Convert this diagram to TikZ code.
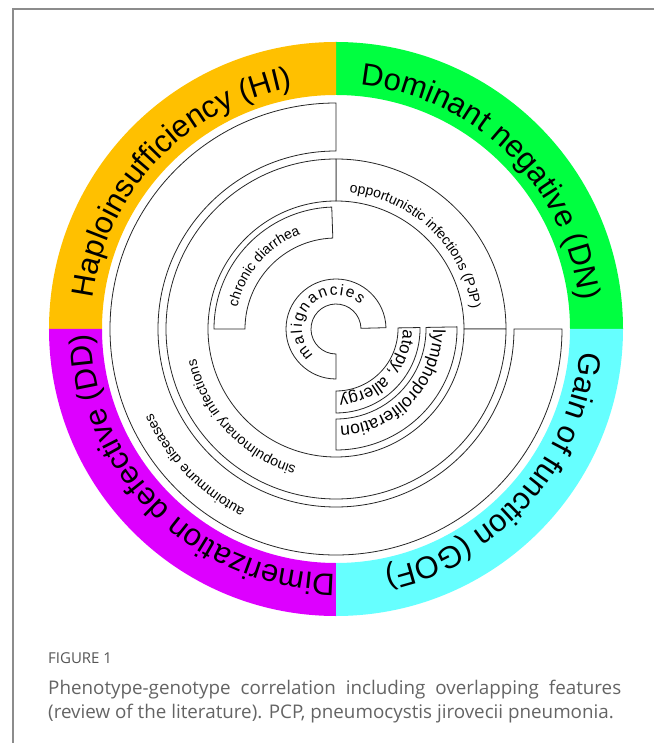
\documentclass[tikz,border=0pt]{standalone}
\usepackage{fontspec}
\setmainfont{Liberation Sans}
\newfontfamily\figcapfont{Open Sans}
\usepackage{tikz}
\usetikzlibrary{decorations.text}
\definecolor{hiorange}{RGB}{255,192,0}
\definecolor{dngreen}{RGB}{0,255,64}
\definecolor{gofcyan}{RGB}{102,255,255}
\definecolor{ddviolet}{RGB}{221,0,255}
\definecolor{captiongray}{RGB}{100,100,100}
\definecolor{framegray}{RGB}{140,140,140}

% annular sector: style, from angle, to angle, inner radius, outer radius
\newcommand{\ringsector}[5]{%
  \path[#1] (#2:#4pt) arc[start angle=#2, end angle=#3, radius=#4pt]
    -- (#3:#5pt) arc[start angle=#3, end angle=#2, radius=#5pt] -- cycle;}
% text on a clockwise arc: from angle, to angle, baseline radius, size, text
\newcommand{\ringtext}[5]{%
  \path[decorate, decoration={text along path, text align=center,
      text={|\fontsize{#4pt}{#4pt}\selectfont|#5}}]
    (#1:#3pt) arc[start angle=#1, end angle=#2, radius=#3pt];}

\begin{document}
\begin{tikzpicture}[x=1pt, y=1pt,
  box/.style={draw=black!85, line width=0.8pt, fill=white},
  figcap/.style={text=captiongray, inner sep=0pt, anchor=base west}]
\useasboundingbox (-336pt,-414pt) rectangle (318pt,329pt);
\draw[framegray, line width=1.2pt] (318pt,320pt) -- (-323pt,320pt) -- (-323pt,-414pt);

\ringsector{fill=dngreen}{0}{90}{234}{287}
\ringsector{fill=hiorange}{90}{180}{234}{287}
\ringsector{fill=ddviolet}{180}{270}{234}{287}
\ringsector{fill=gofcyan}{270}{360}{234}{287}
\ringtext{90.5}{0.5}{245}{31}{Dominant negative (DN)}
\ringtext{181.5}{91.5}{245}{31}{Haploinsufficiency (HI)}
\ringtext{270.5}{180.5}{245}{31}{Dimerization defective (DD)}
\ringtext{3}{-87}{245}{31}{Gain of function (GOF)}

\ringsector{box}{90}{360}{178}{226}
\ringsector{box}{0}{90}{128}{170}
\ringsector{box}{90}{360}{128}{170}
\ringsector{box}{92}{180}{91}{122}
\ringsector{box}{-90}{1}{90}{121}
\ringsector{box}{-90}{1}{62}{84}
\ringsector{box}{1.5}{270}{25}{50}

\ringtext{269}{179}{202}{14}{autoimmune diseases}
\ringtext{268}{178}{143}{14}{sinopulmonary infections}
\ringtext{91.5}{1.5}{137}{14}{opportunistic infections (PJP)}
\ringtext{184}{94}{101}{14}{chronic diarrhea}
\ringtext{1}{-89}{67}{17}{atopy, allergy}
\ringtext{1}{-89}{97}{17.5}{lymphoproliferation}
\path[decorate, decoration={text along path, text align=fit to path,
    text={|\fontsize{15.5pt}{15.5pt}\selectfont|malignancies}}]
  (229:34pt) arc[start angle=229, end angle=45, radius=34pt];

\node[figcap, text=captiongray!85!black, font=\figcapfont\fontsize{15pt}{18pt}\selectfont] (figlabel) at (-288pt,-334pt) {FIGURE 1};
\node[figcap, font=\figcapfont\fontsize{18.8pt}{22pt}\selectfont] (capline1) at (-288pt,-365pt)
  {\makebox[573pt][s]{Phenotype-genotype correlation including overlapping features}};
\node[figcap, font=\figcapfont\fontsize{18.8pt}{22pt}\selectfont] (capline2) at ([yshift=-24.5pt]capline1.base west)
  {(review of the literature). PCP, pneumocystis jirovecii pneumonia.};
\end{tikzpicture}
\end{document}
